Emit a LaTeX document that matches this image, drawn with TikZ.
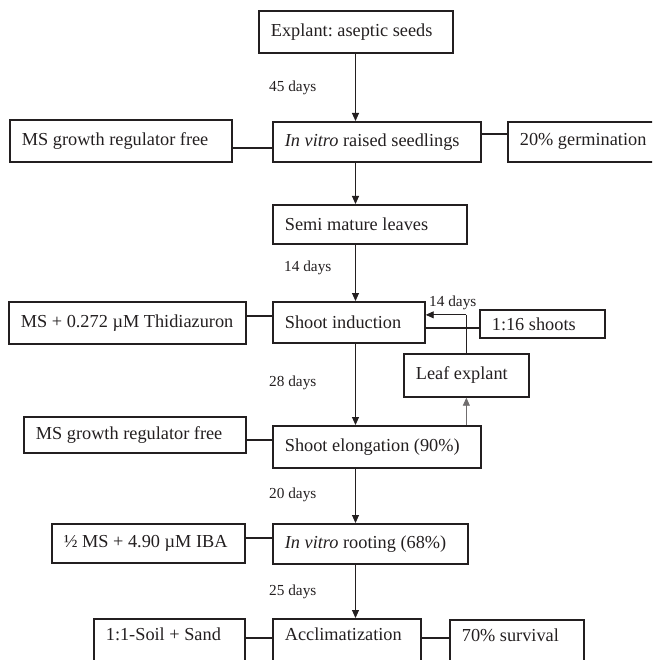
\documentclass[tikz,border=0pt]{standalone}
\usepackage{fontspec}
\setmainfont{Liberation Serif}
\usetikzlibrary{arrows.meta,calc}
\definecolor{ink}{HTML}{231F20}
\newcommand{\lefttext}[2]{\makebox[#1][l]{#2}}
\begin{document}
\begin{tikzpicture}[x=1pt,y=-1pt,
  box/.style={draw=ink, line width=1.7pt, anchor=north west, inner xsep=12pt, inner ysep=0pt,
    text=ink, font=\fontsize{18.3}{22}\selectfont,
    execute at begin node={\frenchspacing}},
  lowbox/.style={box, text height=22pt, text depth=24pt},
  conn/.style={draw=ink, line width=1.7pt},
  arr/.style={draw=ink, line width=0.9pt, -{Triangle[length=8pt,width=7pt]}},
  lbl/.style={anchor=west, inner sep=0pt, text=ink, font=\fontsize{15.3}{18}\selectfont}]
\useasboundingbox (0,0) rectangle (652,660);
\clip (0,0) rectangle (652,660);

% main column
\node[box, minimum height=42pt] (explant) at (258,10) {\lefttext{170pt}{Explant: aseptic seeds}};
\node[box, minimum height=40pt] (seedlings) at (272,121) {\lefttext{184pt}{\textit{In vitro} raised seedlings}};
\node[box, minimum height=39pt] (semi) at (272,204) {\lefttext{170pt}{Semi mature leaves}};
\node[box, minimum height=41pt] (induction) at (272,301) {\lefttext{128pt}{Shoot induction}};
\node[box, minimum height=42pt] (elong) at (272,425) {\lefttext{184pt}{Shoot elongation (90\%)}};
\node[box, minimum height=40pt] (rooting) at (272,523) {\lefttext{171pt}{\textit{In vitro} rooting (68\%)}};
\node[lowbox] (accl) at (272,618) {\lefttext{124pt}{Acclimatization}};

% side boxes
\node[box, minimum height=42pt] (msfreeA) at (9,119) {\lefttext{198pt}{MS growth regulator free}};
\node[box, minimum height=40pt] (germ) at (507,121) {\lefttext{136pt}{20\% germination}};
\node[box, minimum height=42pt] (thid) at (8,301) {\lefttext{213pt}{MS + 0.272 µM Thidiazuron}};
\node[box, minimum height=28pt] (shoots) at (479,309) {\lefttext{101pt}{1:16 shoots}};
\node[box, minimum height=43pt] (leaf) at (403,353) {\lefttext{101pt}{Leaf explant}};
\node[box, minimum height=36pt] (msfreeB) at (23,416) {\lefttext{198pt}{MS growth regulator free}};
\node[box, minimum height=39pt] (half) at (51,523) {\lefttext{169pt}{½ MS + 4.90 µM IBA}};
\node[lowbox] (soil) at (93,618) {\lefttext{127pt}{1:1-Soil + Sand}};
\node[lowbox] (survival) at (449,619) {\lefttext{110pt}{70\% survival}};

% day labels
\node[lbl] (d45) at (269,88) {45 days};
\node[lbl] (d14a) at (284,268) {14 days};
\node[lbl] (d28) at (269,383) {28 days};
\node[lbl] (d20) at (269,495) {20 days};
\node[lbl] (d25) at (269,592) {25 days};
\node[lbl] (d14b) at (429,303) {14 days};

% main arrows
\coordinate (spine) at (355.5,0);
\draw[arr] (spine |- explant.south) -- (spine |- seedlings.north);
\draw[arr] (spine |- seedlings.south) -- (spine |- semi.north);
\draw[arr] (spine |- semi.south) -- (spine |- induction.north);
\draw[arr] (spine |- induction.south) -- (spine |- elong.north);
\draw[arr] (spine |- elong.south) -- (spine |- rooting.north);
\draw[arr] (spine |- rooting.south) -- (spine |- accl.north);

% side connectors
\draw[conn] ([yshift=-7pt]msfreeA.east) -- ([yshift=-7pt]msfreeA.east -| seedlings.west);
\draw[conn] ([yshift=8pt]seedlings.east) -- ([yshift=8pt]seedlings.east -| germ.west);
\draw[conn] ([yshift=7pt]thid.east) -- ([yshift=7pt]thid.east -| induction.west);
\draw[conn] ([yshift=-4pt]shoots.west) -- ([yshift=-4pt]shoots.west -| induction.east);
\draw[conn] ([yshift=-5pt]msfreeB.east) -- ([yshift=-5pt]msfreeB.east -| elong.west);
\draw[conn] ([yshift=5.5pt]half.east) -- ([yshift=5.5pt]half.east -| rooting.west);
\coordinate (rowA) at ([yshift=3pt]accl.text);
\draw[conn] (soil.east |- rowA) -- (accl.west |- rowA);
\draw[conn] (accl.east |- rowA) -- (survival.west |- rowA);

% leaf explant loop
\coordinate (loop) at ([yshift=7.5pt]induction.east -| leaf.north);
\draw[conn] (leaf.north) -- (loop);
\draw[arr] (loop) -- ([yshift=7.5pt]induction.east);
\draw[arr, draw=ink!65] (leaf.south |- elong.north) -- (leaf.south);
\end{tikzpicture}
\end{document}
